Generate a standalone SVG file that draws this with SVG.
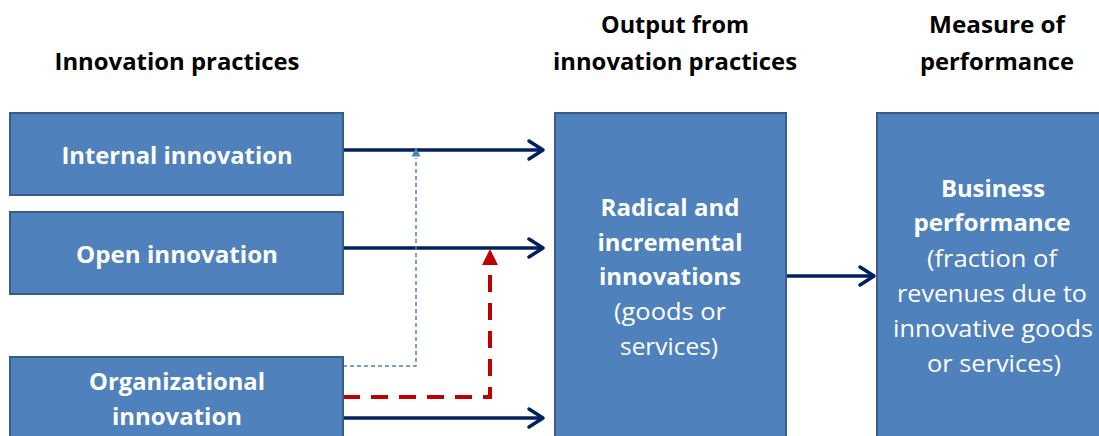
<svg xmlns="http://www.w3.org/2000/svg" width="1099" height="436" viewBox="0 0 1099 436">
  <style>
    .hdr { font-family: "Open Sans", "Liberation Sans", sans-serif; font-weight: bold; font-size: 24px; fill: #000; text-anchor: middle; }
    .box { fill: #4F81BD; stroke: #385D8A; stroke-width: 2; }
    .lbl { font-family: "Open Sans", "Liberation Sans", sans-serif; font-size: 24px; fill: #fff; text-anchor: middle; }
    .b { font-weight: bold; }
    .flow { fill: none; stroke: #002060; stroke-width: 3.5; }
    .red { fill: none; stroke: #C00000; stroke-width: 4; stroke-dasharray: 17 11; }
    .dot { fill: none; stroke: #4F81BD; stroke-width: 1.5; stroke-dasharray: 4 3; }
  </style>
  <defs>
    <marker id="open" viewBox="0 0 12 12" refX="10" refY="6" markerWidth="12" markerHeight="12" markerUnits="userSpaceOnUse" orient="auto" overflow="visible">
      <path d="M-4,-3 L10,6 L-4,15" fill="none" stroke="#002060" stroke-width="3.5" stroke-linecap="round" stroke-linejoin="round"/>
    </marker>
    <marker id="redTip" viewBox="0 0 10 10" refX="5" refY="5" markerWidth="16" markerHeight="16" markerUnits="userSpaceOnUse" orient="auto">
      <path d="M0,0 L10,5 L0,10 Z" fill="#C00000"/>
    </marker>
    <marker id="blueTip" viewBox="0 0 10 10" refX="5" refY="5" markerWidth="9" markerHeight="9" markerUnits="userSpaceOnUse" orient="auto">
      <path d="M0,0 L10,5 L0,10 Z" fill="#4F81BD"/>
    </marker>
  </defs>

  <!-- column headings -->
  <g id="headings">
    <text class="hdr" x="177" y="70" textLength="245" lengthAdjust="spacingAndGlyphs">Innovation practices</text>
    <text class="hdr" x="675" y="33" textLength="148" lengthAdjust="spacingAndGlyphs">Output from</text>
    <text class="hdr" x="675" y="70" textLength="244" lengthAdjust="spacingAndGlyphs">innovation practices</text>
    <text class="hdr" x="997" y="33" textLength="136" lengthAdjust="spacingAndGlyphs">Measure of</text>
    <text class="hdr" x="997" y="70" textLength="154" lengthAdjust="spacingAndGlyphs">performance</text>
  </g>

  <!-- connectors -->
  <g id="connectors">
    <path class="flow" d="M343,150 H543" marker-end="url(#open)"/>
    <path class="flow" d="M343,248 H543" marker-end="url(#open)"/>
    <path class="flow" d="M343,418 H543" marker-end="url(#open)"/>
    <path class="flow" d="M786,276 H874" marker-end="url(#open)"/>
    <path class="dot" d="M343,366 H416 V158"/>
    <path d="M416,158 V152" stroke="none" marker-end="url(#blueTip)"/>
    <path class="red" d="M343,397 H490 V264"/>
    <path d="M490,266 V257" stroke="none" marker-end="url(#redTip)"/>
  </g>

  <g id="internal">
    <rect class="box" x="10" y="113" width="333" height="82"/>
    <text class="lbl b" x="177" y="164" textLength="231" lengthAdjust="spacingAndGlyphs">Internal innovation</text>
  </g>
  <g id="open-innovation">
    <rect class="box" x="10" y="212" width="333" height="82"/>
    <text class="lbl b" x="177" y="263" textLength="202" lengthAdjust="spacingAndGlyphs">Open innovation</text>
  </g>
  <g id="organizational">
    <rect class="box" x="10" y="357" width="333" height="90"/>
    <text class="lbl b" x="177" y="390" textLength="176" lengthAdjust="spacingAndGlyphs">Organizational</text>
    <text class="lbl b" x="177" y="425" textLength="130" lengthAdjust="spacingAndGlyphs">innovation</text>
  </g>
  <g id="output">
    <rect class="box" x="555" y="113" width="231" height="335"/>
    <text class="lbl b" x="670" y="216" textLength="139" lengthAdjust="spacingAndGlyphs">Radical and</text>
    <text class="lbl b" x="670" y="251" textLength="145" lengthAdjust="spacingAndGlyphs">incremental</text>
    <text class="lbl b" x="670" y="285" textLength="142" lengthAdjust="spacingAndGlyphs">innovations</text>
    <text class="lbl" x="670" y="320" textLength="112" lengthAdjust="spacingAndGlyphs">(goods or</text>
    <text class="lbl" x="669" y="355" textLength="98" lengthAdjust="spacingAndGlyphs">services)</text>
  </g>
  <g id="performance">
    <rect class="box" x="877" y="113" width="235" height="335"/>
    <text class="lbl b" x="993" y="197" textLength="104" lengthAdjust="spacingAndGlyphs">Business</text>
    <text class="lbl b" x="992" y="231" textLength="157" lengthAdjust="spacingAndGlyphs">performance</text>
    <text class="lbl" x="992" y="267" textLength="130" lengthAdjust="spacingAndGlyphs">(fraction of</text>
    <text class="lbl" x="992" y="302" textLength="190" lengthAdjust="spacingAndGlyphs">revenues due to</text>
    <text class="lbl" x="993" y="337" textLength="200" lengthAdjust="spacingAndGlyphs">innovative goods</text>
    <text class="lbl" x="994" y="372" textLength="134" lengthAdjust="spacingAndGlyphs">or services)</text>
  </g>
</svg>
